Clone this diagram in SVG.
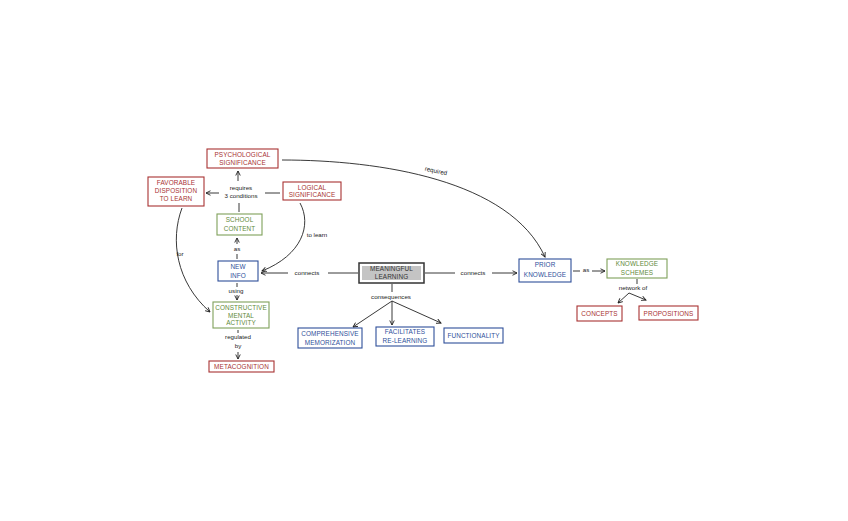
<svg xmlns="http://www.w3.org/2000/svg" width="848" height="521" viewBox="0 0 848 521">
<style>
.bx{fill:#fff;stroke-width:1.1}
.r{stroke:#a83232}.g{stroke:#7fa05a}.b{stroke:#2e4f9a}
.t{font-family:"Liberation Sans",Arial,sans-serif;font-size:6.4px;text-anchor:middle;letter-spacing:0.1px}
.tr{fill:#a83232}.tg{fill:#5f8a3a}.tb{fill:#2e4f9a}
.lb{font-family:"Liberation Sans",Arial,sans-serif;font-size:6.2px;fill:#222;text-anchor:middle}
.c{fill:none;stroke:#222;stroke-width:0.9}
</style>
<defs>
<marker id="a" viewBox="0 0 8 8" refX="7" refY="4" markerWidth="6" markerHeight="6" orient="auto" markerUnits="userSpaceOnUse">
<path d="M1,1 L7,4 L1,7" fill="none" stroke="#222" stroke-width="1.2"/>
</marker>
</defs>
<rect width="848" height="521" fill="#fff"/>
<g id="connectors">
<path class="c" d="M238,181 L238,171" marker-end="url(#a)"/>
<path class="c" d="M219,193 L206,193" marker-end="url(#a)"/>
<path class="c" d="M265,193 L280,193"/>
<path class="c" d="M239,212 L239,203"/>
<path class="c" d="M237,244 L237,238" marker-end="url(#a)"/>
<path class="c" d="M237,259 L237,254"/>
<path class="c" d="M182,208 C170,240 176,282 210,312" marker-end="url(#a)"/>
<path class="c" d="M300,203 C312,225 302,255 262,271" marker-end="url(#a)"/>
<path class="c" d="M358,273 L328,273"/>
<path class="c" d="M288,273 L261,273" marker-end="url(#a)"/>
<path class="c" d="M425,273 L455,273"/>
<path class="c" d="M492,273 L517,273" marker-end="url(#a)"/>
<path class="c" d="M282,160 C380,160 510,180 545,257" marker-end="url(#a)"/>
<path class="c" d="M573,271 L580,271"/>
<path class="c" d="M592,271 L605,271" marker-end="url(#a)"/>
<path class="c" d="M637,279 L637,284"/>
<path class="c" d="M629,293 L618,303" marker-end="url(#a)"/>
<path class="c" d="M629,293 L646,300" marker-end="url(#a)"/>
<path class="c" d="M237,283 L237,287"/>
<path class="c" d="M237,295 L237,300" marker-end="url(#a)"/>
<path class="c" d="M238,330 L238,333"/>
<path class="c" d="M238,352 L238,359" marker-end="url(#a)"/>
<path class="c" d="M392,284 L392,292"/>
<path class="c" d="M392,301 L353,327" marker-end="url(#a)"/>
<path class="c" d="M392,301 L392,325" marker-end="url(#a)"/>
<path class="c" d="M392,301 L441,323" marker-end="url(#a)"/>
<text class="lb" x="241" y="190">requires</text>
<text class="lb" x="241" y="198">3 conditions</text>
<text class="lb" x="237" y="251">as</text>
<text class="lb" x="180" y="256">for</text>
<text class="lb" x="317" y="237">to learn</text>
<text class="lb" x="307" y="275">connects</text>
<text class="lb" x="473" y="275">connects</text>
<text class="lb" x="436" y="173" transform="rotate(12 436 171)">required</text>
<text class="lb" x="586" y="272">as</text>
<text class="lb" x="633" y="290">network of</text>
<text class="lb" x="236" y="293">using</text>
<text class="lb" x="238" y="339">regulated</text>
<text class="lb" x="238" y="348">by</text>
<text class="lb" x="391" y="299">consequences</text>
</g>
<g id="psych"><rect class="bx r" x="207" y="149" width="71" height="19"/><text class="t tr" x="242.5" y="157">PSYCHOLOGICAL</text><text class="t tr" x="242.5" y="165">SIGNIFICANCE</text></g>
<g id="favorable"><rect class="bx r" x="148" y="177" width="56" height="29"/><text class="t tr" x="176" y="185">FAVORABLE</text><text class="t tr" x="176" y="193">DISPOSITION</text><text class="t tr" x="176" y="201">TO LEARN</text></g>
<g id="logical"><rect class="bx r" x="283" y="182" width="58" height="18"/><text class="t tr" x="312" y="190">LOGICAL</text><text class="t tr" x="312" y="197">SIGNIFICANCE</text></g>
<g id="school"><rect class="bx g" x="217" y="214" width="45" height="21"/><text class="t tg" x="239.5" y="222">SCHOOL</text><text class="t tg" x="239.5" y="231">CONTENT</text></g>
<g id="newinfo"><rect class="bx b" x="218" y="261" width="40" height="20"/><text class="t tb" x="238" y="269">NEW</text><text class="t tb" x="238" y="278">INFO</text></g>
<g id="meaningful"><rect x="359" y="263" width="65" height="20" fill="#fff" stroke="#333" stroke-width="1.5"/><rect x="362" y="266" width="59" height="14" fill="#c4c4c4"/><text class="t" fill="#333" x="391.5" y="271">MEANINGFUL</text><text class="t" fill="#333" x="391.5" y="279">LEARNING</text></g>
<g id="prior"><rect class="bx b" x="519" y="259" width="52" height="23"/><text class="t tb" x="545" y="267">PRIOR</text><text class="t tb" x="545" y="277">KNOWLEDGE</text></g>
<g id="schemes"><rect class="bx g" x="607" y="259" width="60" height="19"/><text class="t tg" x="637" y="266">KNOWLEDGE</text><text class="t tg" x="637" y="275">SCHEMES</text></g>
<g id="concepts"><rect class="bx r" x="577" y="306" width="45" height="15"/><text class="t tr" x="599.5" y="316">CONCEPTS</text></g>
<g id="propositions"><rect class="bx r" x="639" y="306" width="59" height="14"/><text class="t tr" x="668.5" y="315.5">PROPOSITIONS</text></g>
<g id="constructive"><rect class="bx g" x="213" y="302" width="56" height="26"/><text class="t tg" x="241" y="310">CONSTRUCTIVE</text><text class="t tg" x="241" y="317.5">MENTAL</text><text class="t tg" x="241" y="325">ACTIVITY</text></g>
<g id="metacognition"><rect class="bx r" x="209" y="361" width="65" height="11"/><text class="t tr" x="241.5" y="369">METACOGNITION</text></g>
<g id="comprehensive"><rect class="bx b" x="298" y="328" width="64" height="20"/><text class="t tb" x="330" y="336">COMPREHENSIVE</text><text class="t tb" x="330" y="345">MEMORIZATION</text></g>
<g id="facilitates"><rect class="bx b" x="376" y="327" width="58" height="19"/><text class="t tb" x="405" y="334">FACILITATES</text><text class="t tb" x="405" y="343">RE-LEARNING</text></g>
<g id="functionality"><rect class="bx b" x="444" y="328" width="59" height="15"/><text class="t tb" x="473.5" y="338">FUNCTIONALITY</text></g>
</svg>
